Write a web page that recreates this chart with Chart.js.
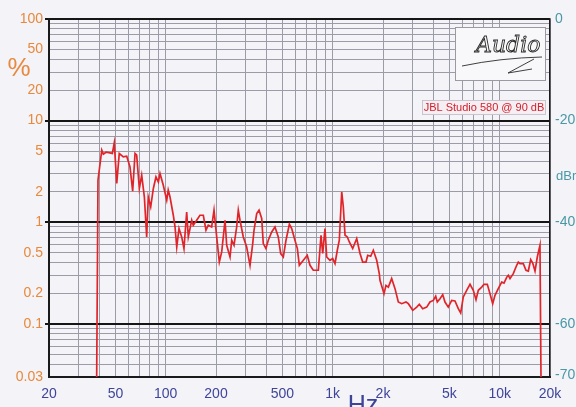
<!DOCTYPE html>
<html>
<head>
<meta charset="utf-8">
<script src="https://cdn.jsdelivr.net/npm/chart.js@4/dist/chart.umd.min.js"></script>
<style>
  html, body { margin: 0; padding: 0; background: #f4f3f8; }
  #wrap { width: 576px; height: 407px; }
</style>
</head>
<body>
<div id="wrap"><canvas id="c" width="576" height="407"></canvas></div>
<script>
// Harmonic distortion (THD %) versus frequency
const freqHz = [
  38.6, 39.3, 41.4, 42.3, 43.9, 46.4, 47.9, 49.2, 50.9, 52.7,
  55.7, 58.4, 61.1, 63.4, 65.5, 67.0, 69.5, 71.8, 74.5, 76.9,
  78.6, 81.3, 84.3, 87.4, 90.3, 92.4, 96.7, 101.4, 103.5, 106.1,
  111.0, 113.7, 116.4, 120.1, 124.6, 128.6, 133.5, 136.5, 143.1, 146.2,
  153.2, 160.3, 167.9, 174.2, 179.8, 188.4, 194.6, 201.9, 209.4, 216.4,
  226.5, 231.8, 242.7, 248.4, 256.4, 266.0, 272.0, 278.4, 291.4, 305.3,
  319.7, 331.8, 337.8, 350.6, 362, 375.6, 383.8, 398.2, 411.2, 431.2,
  451, 472,
  488, 506, 525, 550, 568, 594, 614, 631, 667, 704,
  731, 765, 820, 851, 871, 899, 920, 963, 1000, 1032,
  1065, 1095, 1132, 1157, 1185, 1223, 1257, 1317, 1392, 1457,
  1512, 1582, 1620, 1688, 1750, 1834, 1900,
  1919, 2028, 2084, 2152, 2254, 2360, 2470, 2588, 2746, 2836,
  3014, 3184, 3300, 3458, 3654, 3822, 4002, 4136, 4228, 4388,
  4556, 4702, 4920, 5156, 5396, 5648, 5838, 6052, 6340, 6638,
  6946, 7210, 7444, 7798, 8050, 8426, 8744, 9076, 9368, 9804,
  10274, 10606, 11006, 11252, 11520, 12056, 12636, 12920, 13228, 13842,
  14368, 14832, 15330, 15760, 16266, 16790, 17420, 17662
];
const thdPct = [
  0.03, 2.59, 5.12, 4.68, 4.89, 4.82, 4.75, 6.04, 2.41, 4.75,
  4.40, 4.47, 3.51, 2.02, 4.75, 4.57, 2.15, 2.90, 1.77, 0.717,
  1.77, 1.415, 2.15, 2.79, 2.49, 3.02, 2.31, 1.647, 2.07, 1.77,
  1.172, 0.899, 0.571, 0.867, 0.717, 0.551, 1.263, 0.717, 1.046, 0.934,
  1.046, 1.172, 1.172, 0.834, 0.934, 0.899, 1.313, 0.717, 0.406, 0.510,
  1.046, 0.593, 0.455, 0.665, 0.593, 0.899, 1.313, 1.046, 0.717, 0.571,
  0.377, 0.617, 0.834, 1.218, 1.313, 1.088, 0.617, 0.551, 0.665, 0.802,
  0.899, 0.717,
  0.492, 0.455, 0.665, 0.956, 0.867, 0.665, 0.551, 0.377, 0.422, 0.473,
  0.377, 0.337, 0.337, 0.745, 0.492, 0.867, 0.455, 0.422, 0.439, 0.392,
  0.530, 0.665, 1.988, 1.415, 0.745, 0.717, 0.640, 0.551, 0.691, 0.492,
  0.406, 0.406, 0.473, 0.463, 0.530, 0.422, 0.313,
  0.268, 0.198, 0.239, 0.230, 0.279, 0.222, 0.164, 0.158, 0.164, 0.158,
  0.136, 0.146, 0.156, 0.141, 0.146, 0.164, 0.170, 0.187, 0.164, 0.177,
  0.194, 0.164, 0.146, 0.170, 0.168, 0.141, 0.128, 0.184, 0.214, 0.245,
  0.214, 0.173, 0.214, 0.230, 0.245, 0.245, 0.198, 0.158, 0.191, 0.222,
  0.258, 0.252, 0.287, 0.301, 0.279, 0.312, 0.377, 0.406, 0.392, 0.392,
  0.337, 0.331, 0.429, 0.397, 0.331, 0.455, 0.593, 0.03
];

// Grid positions and labelled ticks
const xGrid = [20, 30, 40, 50, 60, 70, 80, 90,
  100, 200, 300, 400, 500, 600, 700, 800, 900,
  1000, 2000, 3000, 4000, 5000, 6000, 7000, 8000, 9000, 10000, 20000];
const xLabels = { 20: '20', 50: '50', 100: '100', 200: '200', 500: '500',
  1000: '1k', 2000: '2k', 5000: '5k', 10000: '10k', 20000: '20k' };
const yGrid = [0.03, 0.04, 0.05, 0.06, 0.07, 0.08, 0.09,
  0.1, 0.2, 0.3, 0.4, 0.5, 0.6, 0.7, 0.8, 0.9,
  1, 2, 3, 4, 5, 6, 7, 8, 9,
  10, 20, 30, 40, 50, 60, 70, 80, 90, 100];
const yLabels = [0.03, 0.1, 0.2, 0.5, 1, 2, 5, 10, 20, 50, 100];
const yDecades = [0.1, 1, 10, 100];
const dbTicks = [100, 10, 1, 0.1, 0.0316];

const FONT = "'Liberation Sans', Arial, sans-serif";
const GRID = '#9c9ca8';
const isDecade = v => yDecades.some(d => Math.abs(d - v) < 1e-9);

const overlay = {
  id: 'overlay',
  beforeDraw(chart) {
    const ctx = chart.ctx;
    ctx.save();
    ctx.fillStyle = '#f4f3f8';
    ctx.fillRect(0, 0, chart.width, chart.height);
    ctx.restore();
  },
  afterDraw(chart) {
    const ctx = chart.ctx;
    ctx.save();
    // axis titles
    ctx.fillStyle = '#e8893c';
    ctx.font = '26px ' + FONT;
    ctx.textAlign = 'center';
    ctx.textBaseline = 'middle';
    ctx.fillText('%', 19, 69);
    ctx.fillStyle = '#3d4599';
    ctx.font = '25px ' + FONT;
    ctx.textBaseline = 'alphabetic';
    ctx.fillText('Hz', 363, 413);
    ctx.fillStyle = '#4a98a6';
    ctx.font = '13px ' + FONT;
    ctx.textAlign = 'left';
    ctx.textBaseline = 'middle';
    ctx.fillText('dBr', 556, 176);

    // logo box
    ctx.fillStyle = '#f8f8fa';
    ctx.strokeStyle = '#9a9aa0';
    ctx.lineWidth = 1;
    ctx.fillRect(455.5, 27.5, 90, 53);
    ctx.strokeRect(455.5, 27.5, 90, 53);
    ctx.strokeStyle = '#2a2a2a';
    ctx.lineWidth = 0.9;
    ctx.font = "italic 22px 'DejaVu Serif', serif";
    ctx.textAlign = 'left';
    ctx.textBaseline = 'alphabetic';
    ctx.strokeText('Audio', 476, 52);
    ctx.beginPath();
    ctx.moveTo(462, 66);
    ctx.quadraticCurveTo(500, 58, 542, 57);
    ctx.moveTo(534, 59);
    ctx.lineTo(508, 73);
    ctx.lineTo(532, 69);
    ctx.stroke();

    // series tag
    ctx.fillStyle = '#f5eef3';
    ctx.strokeStyle = '#c4c0c8';
    ctx.fillRect(422.5, 100.5, 123, 14);
    ctx.strokeRect(422.5, 100.5, 123, 14);
    ctx.fillStyle = '#d4202c';
    ctx.font = '11px ' + FONT;
    ctx.textAlign = 'center';
    ctx.textBaseline = 'middle';
    ctx.fillText('JBL Studio 580 @ 90 dB', 484, 108);
    ctx.restore();
  }
};

new Chart(document.getElementById('c'), {
  type: 'line',
  data: {
    datasets: [{
      data: freqHz.map((f, i) => ({ x: f, y: thdPct[i] })),
      borderColor: '#e0252a',
      borderWidth: 1.7,
      pointRadius: 0,
      tension: 0,
      yAxisID: 'y'
    }]
  },
  options: {
    responsive: false,
    animation: false,
    events: [],
    layout: { padding: { top: 19, left: 0, right: 0, bottom: 0 } },
    plugins: { legend: { display: false }, tooltip: { enabled: false } },
    scales: {
      x: {
        type: 'logarithmic',
        min: 20, max: 20000,
        afterBuildTicks: s => { s.ticks = xGrid.map(v => ({ value: v })); },
        afterFit: s => { s.height = 30; },
        ticks: {
          autoSkip: false, maxRotation: 0, minRotation: 0, padding: 9,
          color: '#3d4599', font: { family: FONT, size: 14 },
          callback: v => xLabels[v] || ''
        },
        grid: { color: GRID, lineWidth: 1, drawTicks: false },
        border: { color: '#1a1a1a', width: 2 }
      },
      y: {
        type: 'logarithmic',
        position: 'left',
        min: 0.03, max: 100,
        afterBuildTicks: s => { s.ticks = yGrid.map(v => ({ value: v })); },
        afterFit: s => { s.width = 49; },
        ticks: {
          autoSkip: false, padding: 2,
          color: '#e8893c', font: { family: FONT, size: 14 },
          callback: v => yLabels.some(l => Math.abs(l - v) < 1e-9) ? String(v) : ''
        },
        grid: {
          color: c => isDecade(c.tick.value) ? '#151515' : GRID,
          lineWidth: c => isDecade(c.tick.value) ? 2 : 1,
          tickColor: c => isDecade(c.tick.value) ? '#151515' : 'rgba(0,0,0,0)',
          tickLength: 4,
          drawTicks: true
        },
        border: { color: '#1a1a1a', width: 2 }
      },
      y2: {
        type: 'logarithmic',
        position: 'right',
        min: 0.03, max: 100,
        afterBuildTicks: s => { s.ticks = dbTicks.map(v => ({ value: v })); },
        afterFit: s => { s.width = 26; },
        ticks: {
          autoSkip: false, padding: 5,
          color: '#4a98a6', font: { family: FONT, size: 14 },
          callback: v => String(Math.round(20 * Math.log10(v / 100)))
        },
        grid: { display: false, drawTicks: false },
        border: { color: '#1a1a1a', width: 1.5 }
      }
    }
  },
  plugins: [overlay]
});
</script>
</body>
</html>
